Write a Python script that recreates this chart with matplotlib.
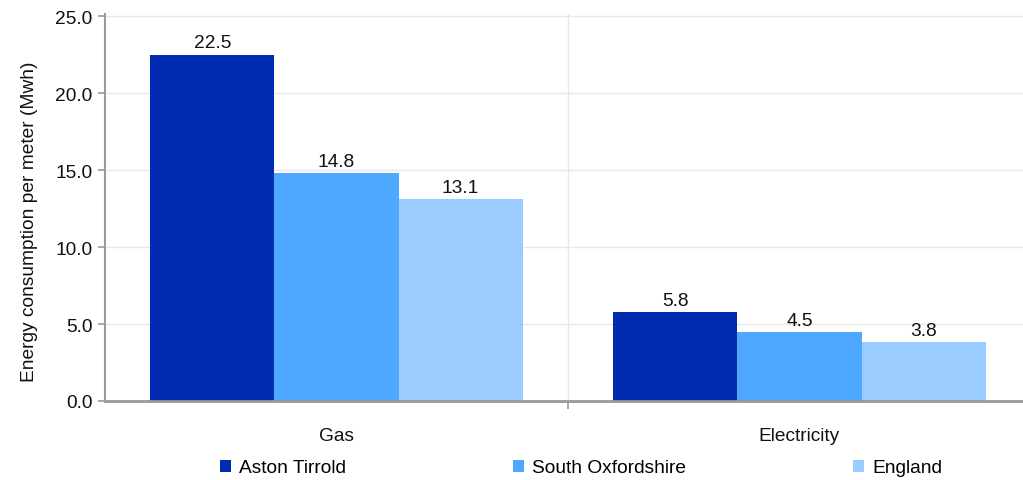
import matplotlib
matplotlib.use("Agg")
import matplotlib.pyplot as plt
import numpy as np

categories = ["Gas", "Electricity"]
series_names = ["Aston Tirrold", "South Oxfordshire", "England"]
aston = [22.5, 5.8]
south_ox = [14.8, 4.5]
england = [13.1, 3.8]
yticks = [0.0, 5.0, 10.0, 15.0, 20.0, 25.0]
colors = ["#012cb1", "#4ea8ff", "#9accff"]

plt.rcParams["font.family"] = ["Liberation Sans", "DejaVu Sans"]
FS = 13.8

W, H = 1023, 481
fig = plt.figure(figsize=(W / 100, H / 100), dpi=100)
ax = fig.add_axes([105 / W, 1 - 402 / H, (1031 - 105) / W, (402 - 15) / H])

x = np.arange(len(categories))
bw = 0.268
for i, (vals, name, c) in enumerate(zip([aston, south_ox, england], series_names, colors)):
    bars = ax.bar(x + (i - 1) * bw, vals, bw, color=c, label=name, zorder=3)
    for b, v in zip(bars, vals):
        ax.text(b.get_x() + b.get_width() / 2, v + 0.2, f"{v:.1f}",
                ha="center", va="bottom", fontsize=FS, color="#111111", zorder=4)

ax.set_xlim(-0.5, 1.5)
ax.set_ylim(0, 25.13)
ax.set_yticks(yticks)
ax.set_yticklabels([f"{t:.1f}" for t in yticks], fontsize=FS, color="#111111")
ax.set_xticks(x)
ax.set_xticklabels(categories, fontsize=FS, color="#111111")
ax.tick_params(axis="x", which="major", length=0, pad=19)
ax.set_xticks([0.5], minor=True)
ax.tick_params(axis="x", which="minor", length=6, color="#999999", width=1.2)
ax.tick_params(axis="y", length=5, color="#999999", width=1.2, pad=4)

ax.grid(axis="y", color="#e8e8e8", linewidth=1, zorder=0)
ax.axvline(0.5, color="#e8e8e8", linewidth=1, zorder=0)

for s in ["top", "right"]:
    ax.spines[s].set_visible(False)
ax.spines["left"].set_color("#999999")
ax.spines["left"].set_linewidth(1.5)
ax.spines["bottom"].set_color("#999999")
ax.spines["bottom"].set_linewidth(2)
ax.spines["bottom"].set_zorder(5)

fig.text(30 / W, 1 - 222 / H, "Energy consumption per meter (Mwh)", rotation=90,
         ha="center", va="center", fontsize=FS, color="#111111")

fig.legend(loc="center", bbox_to_anchor=(581 / W, 1 - 469 / H), ncol=3, frameon=False,
           fontsize=FS, handlelength=0.58, handleheight=0.58, handletextpad=0.42,
           columnspacing=8.7, borderpad=0, borderaxespad=0)

fig.savefig("out.png", dpi=100)
